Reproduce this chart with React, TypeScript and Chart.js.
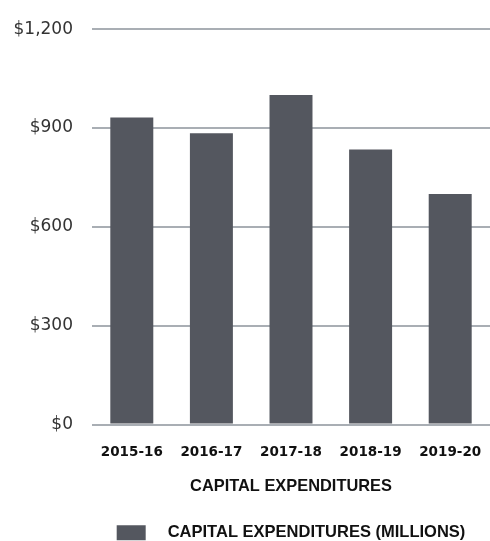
import React, { useEffect, useRef } from "react";
import { Chart, registerables } from "chart.js";

Chart.register(...registerables);

const categories = ["2015-16", "2016-17", "2017-18", "2018-19", "2019-20"];
const capex = [932, 884, 1000, 835, 700];
const yTicks = [0, 300, 600, 900, 1200];
const seriesLabel = "CAPITAL EXPENDITURES (MILLIONS)";
const axisTitle = "CAPITAL EXPENDITURES";

const BAR = "#54575f";
const GRID = "#a9aeb4";

export default function App() {
  const ref = useRef<HTMLCanvasElement | null>(null);

  useEffect(() => {
    if (!ref.current) return;
    const chart = new Chart(ref.current, {
      type: "bar",
      data: {
        labels: categories,
        datasets: [
          {
            label: seriesLabel,
            data: capex,
            backgroundColor: BAR,
            borderWidth: 0,
            categoryPercentage: 1,
            barPercentage: 0.54,
          },
        ],
      },
      options: {
        responsive: false,
        animation: false,
        layout: { padding: { top: 28, right: 0, bottom: -10, left: 0 } },
        plugins: {
          tooltip: { enabled: false },
          legend: {
            position: "bottom",
            fullSize: false,
            labels: {
              boxWidth: 29,
              boxHeight: 15,
              padding: 2,
              color: "#111",
              font: { family: "Liberation Sans", size: 16.5, weight: "bold" },
              generateLabels: (c: any) => {
                const ds = c.data.datasets[0];
                return [
                  {
                    text: "   " + ds.label,
                    fillStyle: BAR,
                    strokeStyle: BAR,
                    lineWidth: 0,
                    hidden: false,
                    datasetIndex: 0,
                    fontColor: "#111",
                  },
                ];
              },
            },
          },
        },
        scales: {
          x: {
            afterFit: (scale: any) => {
              scale.paddingRight = 0;
              scale.paddingLeft = 0;
            },
            grid: { display: false, drawTicks: false },
            border: { display: false },
            ticks: {
              padding: 20,
              color: "#111",
              font: { family: "DejaVu Sans", size: 13.5, weight: "bold" },
            },
            title: {
              display: true,
              text: axisTitle,
              color: "#111",
              padding: { top: -4, bottom: 26 },
              font: { family: "Liberation Sans", size: 16.4, weight: "bold" },
            },
          },
          y: {
            min: 0,
            max: 1200,
            afterBuildTicks: (scale: any) => {
              scale.ticks = yTicks.map((v) => ({ value: v }));
            },
            afterFit: (scale: any) => {
              scale.width = 92;
            },
            grid: { color: GRID, lineWidth: 2, drawTicks: false },
            border: { display: false },
            ticks: {
              padding: 19,
              color: "#333",
              font: { family: "DejaVu Sans", size: 17 },
              callback: (v: any) => "$" + Number(v).toLocaleString("en-US"),
            },
          },
        },
      },
    });
    return () => chart.destroy();
  }, []);

  return (
    <div style={{ position: "fixed", left: 0, top: 0, width: 490, height: 541, background: "#fff" }}>
      <canvas ref={ref} width={490} height={541} />
    </div>
  );
}
